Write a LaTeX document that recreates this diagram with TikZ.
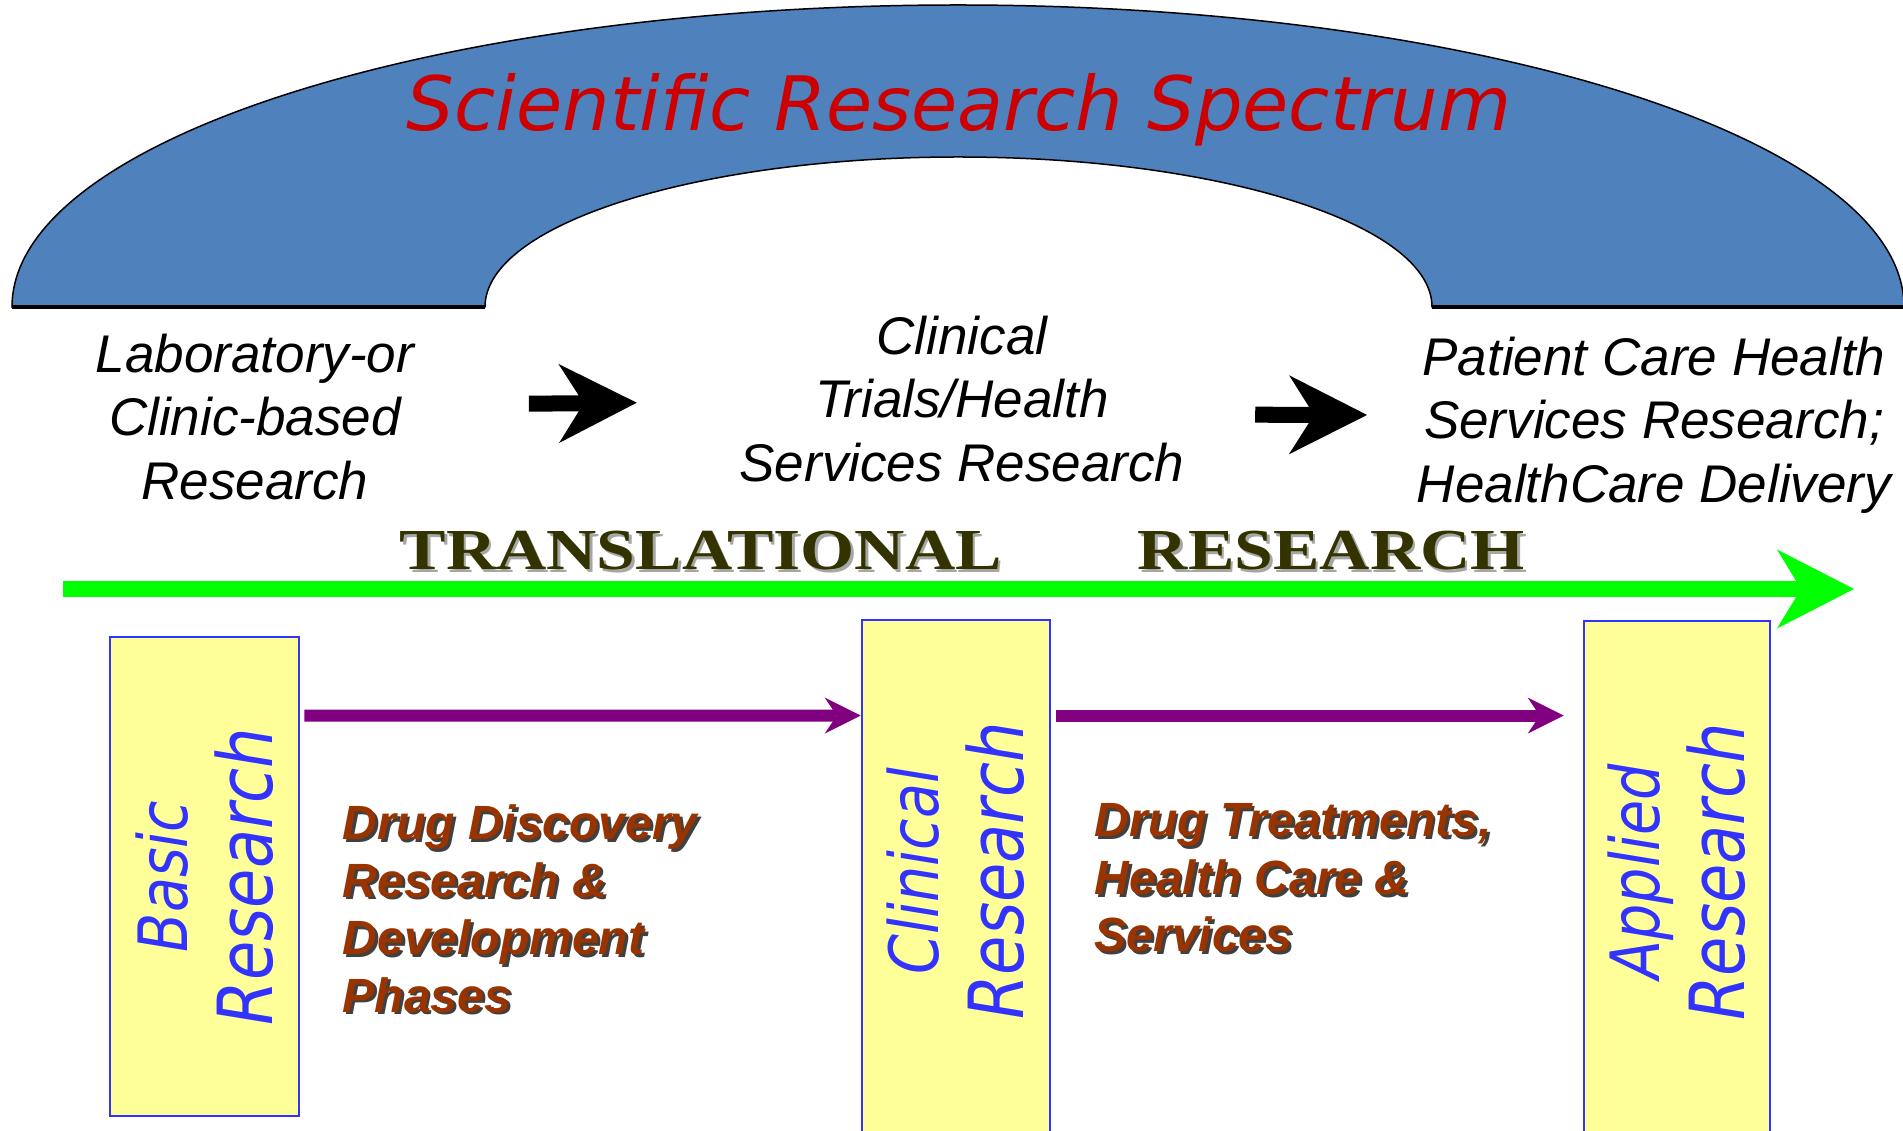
\documentclass[tikz,border=0pt]{standalone}
\usepackage{fontspec}
\setmainfont{Liberation Sans}
\newfontfamily\titlefont{DejaVu Sans}
\newfontfamily\stagefont[FakeStretch=0.84]{DejaVu Sans}
\newfontfamily\bannerfont[FakeStretch=1.2]{Liberation Serif}
\usepackage{xcolor}
\usetikzlibrary{arrows.meta,positioning}
\definecolor{archblue}{RGB}{79,129,189}
\definecolor{titlered}{RGB}{204,0,0}
\definecolor{bannerolive}{RGB}{51,51,0}
\definecolor{stageyellow}{RGB}{255,255,153}
\definecolor{stageblue}{RGB}{51,51,255}
\definecolor{drugbrown}{RGB}{153,51,0}
\definecolor{flowpurple}{RGB}{128,0,128}
\definecolor{spinegreen}{RGB}{0,255,0}

% text with an offset copy behind it
\newcommand{\dropshadow}[3]{\rlap{\kern#1\raisebox{-#1}{\textcolor{#2}{#3}}}#3}
\newcommand{\drugline}[1]{\dropshadow{0.8pt}{black!75}{#1}}
% two lines turned to read upwards
\newcommand{\stagetext}[3][0cm]{\rotatebox{90}{\hbox{\kern#1\vbox{\baselineskip=24.19pt\halign{\hfil##\hfil\cr
  \fontsize{19.35pt}{24.19pt}\selectfont #2\cr
  \fontsize{21.62pt}{24.19pt}\selectfont #3\cr}}}}}

\begin{document}
\begin{tikzpicture}[
    x=0.01cm, y=-0.01cm,
    stage/.style={rectangle, draw=stageblue, line width=0.025cm, fill=stageyellow, inner sep=0pt, text=stageblue, font=\stagefont\itshape},
    phase/.style={align=center, inner sep=0pt, font=\itshape\fontsize{15.08pt}{18.07pt}\selectfont},
    drugnote/.style={align=left, inner sep=0pt, text=drugbrown, font=\bfseries\itshape\fontsize{13.66pt}{16.36pt}\selectfont},
    flow/.style={draw=flowpurple, line width=0.12cm, -{Stealth[length=0.36cm, width=0.36cm, inset=0.12cm, line width=0pt]}},
    bigarrow/.style={draw=black, line width=0.16cm, -{Stealth[length=0.78cm, width=0.79cm, inset=0.25cm, line width=0pt]}},
    spine/.style={draw=spinegreen, line width=0.16cm, -{Stealth[length=0.77cm, width=0.79cm, inset=0.24cm, line width=0pt]}}
]
\useasboundingbox (0,0) rectangle (1903,1131);

% the arch
\filldraw[fill=archblue, draw=black, line width=0.015cm] (12,307) arc[start angle=180, end angle=360, x radius=946, y radius=302]
  -- (1432,307) arc[start angle=0, end angle=-180, x radius=473.5, y radius=150] -- cycle;
\draw[line width=0.04cm] (12,307) -- (485,307) (1432,307) -- (1904,307);
\node[anchor=base, text=titlered, font=\titlefont\itshape\fontsize{21.34pt}{24pt}\selectfont] (title) at (959,131) {Scientific Research Spectrum};

% stages along the spectrum
\node[phase, anchor=north] (lab) at (255,333) {Laboratory-or\\Clinic-based\\Research};
\node[phase, anchor=north] (trials) at (962,315) {Clinical\\Trials/Health\\Services Research};
\node[phase, anchor=north] (care) at (1654,336) {Patient Care Health\\Services Research;\\HealthCare Delivery};

\draw[bigarrow] ([shift={(114,-13)}]lab.east) -- ([shift={(-102,4)}]trials.west);
\draw[bigarrow] ([shift={(70,16)}]trials.east) -- ([shift={(-49,-10)}]care.west);

% translational axis
\node[anchor=base west, inner sep=0pt, text=bannerolive, font=\bannerfont\bfseries\fontsize{16.5pt}{20pt}\selectfont] (banner) at (399,570)
  {\dropshadow{0.7pt}{black!35}{TRANSLATIONAL\hspace{1.36cm}RESEARCH}};
\coordinate (tr-start) at (63,589);
\coordinate (tr-end) at (1854,589);
\draw[spine] (tr-start) -- (tr-end);

% research boxes
\node[stage, minimum width=1.89cm, minimum height=4.79cm] (basic) at (204.5,876.5) {\stagetext{Basic}{Research}};
\node[stage, minimum width=1.88cm, minimum height=5.2cm] (clinical) at (956,880) {\stagetext[0.18cm]{Clinical}{Research}};
\node[stage, minimum width=1.86cm, minimum height=5.2cm] (applied) at (1677,881) {\stagetext[0.18cm]{Applied}{Research}};

\draw[flow] ([shift={(4,80)}]basic.north east) -- ([shift={(0,97)}]clinical.north west);
\draw[flow] ([shift={(5,97)}]clinical.north east) -- ([shift={(-19,96)}]applied.north west);

\node[drugnote, anchor=north west] (discovery) at (342,804) {\drugline{Drug Discovery}\\\drugline{Research \&}\\\drugline{Development}\\\drugline{Phases}};
\node[drugnote, anchor=north west] (treatment) at (1094,803) {\drugline{Drug Treatments,}\\\drugline{Health Care \&}\\\drugline{Services}};
\end{tikzpicture}
\end{document}
